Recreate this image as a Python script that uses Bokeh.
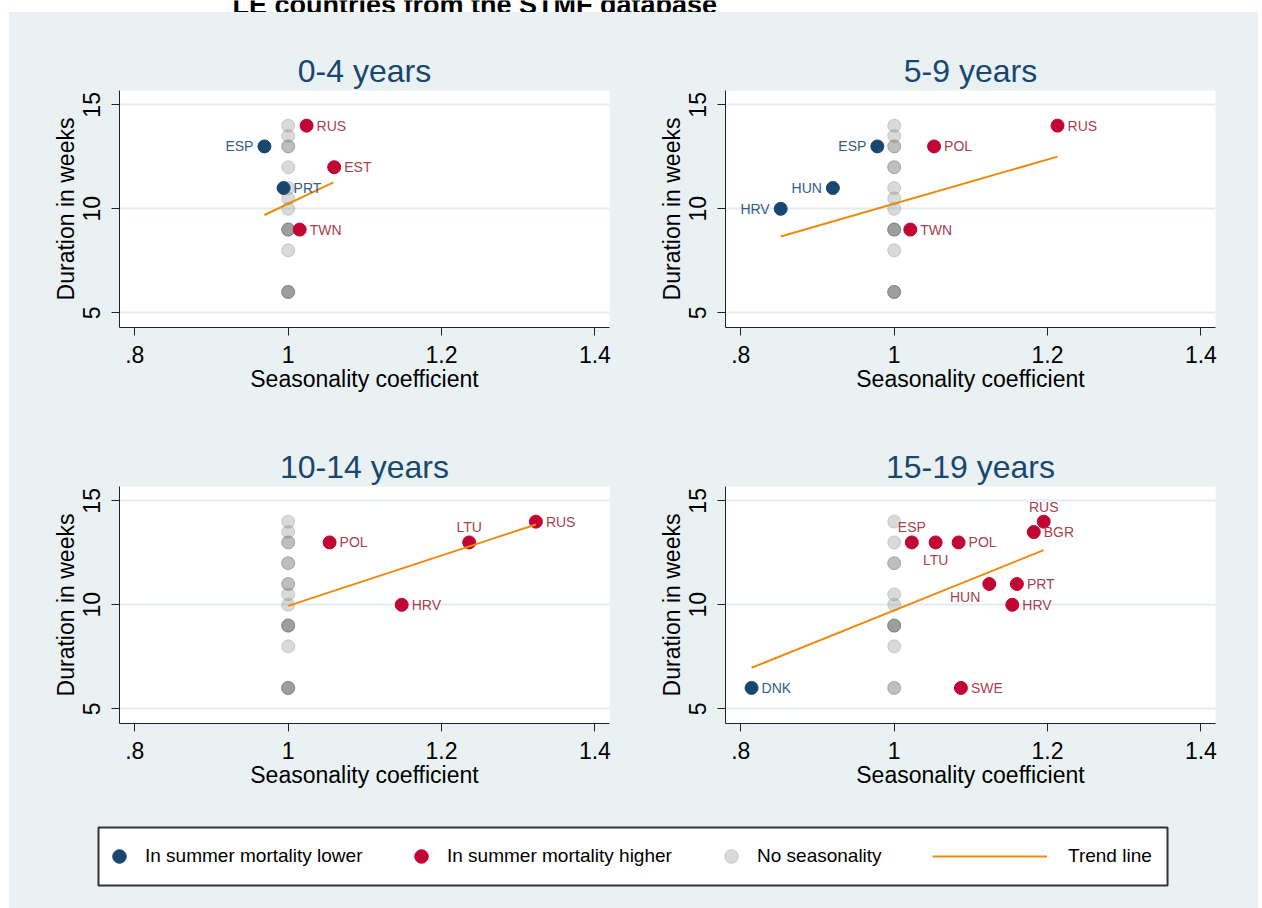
from bokeh.plotting import figure
from bokeh.models import Range1d, FixedTicker, ColumnDataSource, Legend, LegendItem, Spacer, Label
from bokeh.layouts import column, row
from bokeh.core.properties import value
from bokeh.embed import file_html
from bokeh.resources import INLINE

# ---------------- data ----------------
page_title = "LE countries from the STMF database"
panel_titles = ["0-4 years", "5-9 years", "10-14 years", "15-19 years"]

x_ticks = [0.8, 1.0, 1.2, 1.4]
x_tick_labels = [".8", "1", "1.2", "1.4"]
y_ticks = [5, 10, 15]
y_tick_labels = ["5", "10", "15"]

# 0-4 years
p04_blue_code = ["ESP", "PRT"]
p04_blue_x = [0.969, 0.994]
p04_blue_y = [13, 11]
p04_red_code = ["RUS", "EST", "TWN"]
p04_red_x = [1.024, 1.060, 1.015]
p04_red_y = [14, 12, 9]
p04_gray_y = [14, 13.5, 13, 13, 12, 11, 10.5, 10, 9, 9, 9, 9, 8, 6, 6, 6, 6]
p04_trend_x = [0.969, 1.059]
p04_trend_y = [9.70, 11.27]

# 5-9 years
p59_blue_code = ["ESP", "HUN", "HRV"]
p59_blue_x = [0.978, 0.920, 0.852]
p59_blue_y = [13, 11, 10]
p59_red_code = ["POL", "RUS", "TWN"]
p59_red_x = [1.052, 1.213, 1.021]
p59_red_y = [13, 14, 9]
p59_gray_y = [14, 13.5, 13, 13, 12, 12, 11, 10.5, 10, 9, 9, 9, 9, 8, 6, 6, 6, 6]
p59_trend_x = [0.852, 1.213]
p59_trend_y = [8.67, 12.51]

# 10-14 years
p1014_blue_code = []
p1014_blue_x = []
p1014_blue_y = []
p1014_red_code = ["POL", "LTU", "RUS", "HRV"]
p1014_red_x = [1.054, 1.236, 1.323, 1.148]
p1014_red_y = [13, 13, 14, 10]
p1014_gray_y = [14, 13.5, 13, 13, 12, 12, 11, 11, 10.5, 10, 9, 9, 9, 9, 8, 6, 6, 6, 6]
p1014_trend_x = [1.0, 1.323]
p1014_trend_y = [9.95, 13.86]

# 15-19 years
p1519_blue_code = ["DNK"]
p1519_blue_x = [0.814]
p1519_blue_y = [6]
p1519_red_code = ["ESP", "LTU", "POL", "RUS", "BGR", "HUN", "PRT", "HRV", "SWE"]
p1519_red_x = [1.023, 1.054, 1.084, 1.195, 1.182, 1.124, 1.160, 1.154, 1.087]
p1519_red_y = [13, 13, 13, 14, 13.5, 11, 11, 10, 6]
p1519_gray_y = [14, 13, 12, 12, 10.5, 10, 9, 9, 9, 9, 8, 6, 6]
p1519_trend_x = [0.814, 1.195]
p1519_trend_y = [6.97, 12.63]

legend_labels = ["In summer mortality lower", "In summer mortality higher",
                 "No seasonality", "Trend line"]

# label placement (style, clock-like positions)
label_pos = {
    0: {"ESP": "l", "PRT": "r", "RUS": "r", "EST": "r", "TWN": "r"},
    1: {"ESP": "l", "HUN": "l", "HRV": "l", "POL": "r", "RUS": "r", "TWN": "r"},
    2: {"POL": "r", "LTU": "t", "RUS": "r", "HRV": "r"},
    3: {"DNK": "r", "ESP": "t", "LTU": "b", "POL": "r", "RUS": "t", "BGR": "r",
        "HUN": "bl", "PRT": "r", "HRV": "r", "SWE": "r"},
}

panels = [
    dict(blue=(p04_blue_code, p04_blue_x, p04_blue_y), red=(p04_red_code, p04_red_x, p04_red_y),
         gray=p04_gray_y, trend=(p04_trend_x, p04_trend_y)),
    dict(blue=(p59_blue_code, p59_blue_x, p59_blue_y), red=(p59_red_code, p59_red_x, p59_red_y),
         gray=p59_gray_y, trend=(p59_trend_x, p59_trend_y)),
    dict(blue=(p1014_blue_code, p1014_blue_x, p1014_blue_y), red=(p1014_red_code, p1014_red_x, p1014_red_y),
         gray=p1014_gray_y, trend=(p1014_trend_x, p1014_trend_y)),
    dict(blue=(p1519_blue_code, p1519_blue_x, p1519_blue_y), red=(p1519_red_code, p1519_red_x, p1519_red_y),
         gray=p1519_gray_y, trend=(p1519_trend_x, p1519_trend_y)),
]

# ---------------- style ----------------
FONT = "Liberation Sans"
BG = "#e9f1f3"
GRID = "#e3ecef"
BLUE = "#1a476f"
RED = "#c10534"
BLUE_TXT = "#335d85"
RED_TXT = "#a8414f"
GRAY = "#7a7a7a"
ORANGE = "#ec8b0e"
TITLE_C = "#1a476f"

POS = {
    "r": dict(x_offset=10, y_offset=0, text_align="left", text_baseline="middle"),
    "l": dict(x_offset=-11, y_offset=0, text_align="right", text_baseline="middle"),
    "t": dict(x_offset=0, y_offset=-15, text_align="center", text_baseline="alphabetic"),
    "b": dict(x_offset=0, y_offset=18, text_align="center", text_baseline="alphabetic"),
    "bl": dict(x_offset=-9, y_offset=13, text_align="right", text_baseline="alphabetic"),
}


def add_labels(p, codes, xs, ys, posmap, color):
    for key, kw in POS.items():
        idx = [i for i, c in enumerate(codes) if posmap.get(c) == key]
        if not idx:
            continue
        src = ColumnDataSource(dict(x=[xs[i] for i in idx], y=[ys[i] for i in idx],
                                    t=[codes[i] for i in idx]))
        p.text(x="x", y="y", text="t", source=src, text_font=value(FONT),
               text_font_size="14px", text_color=color, **kw)


def make_panel(i, width, left, right):
    d = panels[i]
    p = figure(width=width, height=396, x_range=Range1d(0.78, 1.419),
               y_range=Range1d(4.29, 15.69), output_backend="svg", toolbar_location=None,
               min_border_left=left, min_border_right=right, min_border_top=78,
               min_border_bottom=81, title=panel_titles[i])
    p.background_fill_color = "white"
    p.border_fill_color = BG
    p.outline_line_color = None
    p.title.align = "center"
    p.title.text_font = FONT
    p.title.text_font_size = "32px"
    p.title.text_font_style = "normal"
    p.title.text_color = TITLE_C
    p.title.standoff = 4

    p.xaxis.ticker = FixedTicker(ticks=x_ticks)
    p.xaxis.major_label_overrides = dict(zip(x_ticks, x_tick_labels))
    p.yaxis.ticker = FixedTicker(ticks=y_ticks)
    p.yaxis.major_label_overrides = dict(zip(y_ticks, y_tick_labels))
    p.yaxis.major_label_orientation = "vertical"
    p.xaxis.axis_label = "Seasonality coefficient"
    p.yaxis.axis_label = "Duration in weeks"
    for ax in (p.xaxis, p.yaxis):
        ax.axis_label_text_font = FONT
        ax.axis_label_text_font_size = "23px"
        ax.axis_label_text_font_style = "normal"
        ax.axis_label_text_color = "black"
        ax.major_label_text_font = FONT
        ax.major_label_text_font_size = "23px"
        ax.major_label_text_color = "black"
        ax.minor_tick_line_color = None
        ax.major_tick_in = 0
        ax.major_tick_out = 8
        ax.axis_line_color = "#222222"
        ax.major_tick_line_color = "#222222"
    p.xaxis.major_label_standoff = 10
    p.xaxis.axis_label_standoff = 0
    p.yaxis.major_label_standoff = 11
    p.yaxis.axis_label_standoff = 2
    p.xgrid.visible = False
    p.ygrid.ticker = FixedTicker(ticks=y_ticks)
    p.ygrid.grid_line_color = GRID
    p.ygrid.grid_line_width = 2

    gy = d["gray"]
    p.scatter(x=[1.0] * len(gy), y=gy, size=13, fill_color=GRAY, fill_alpha=0.28,
              line_color=GRAY, line_alpha=0.3, line_width=1)
    bc, bx, by = d["blue"]
    if bx:
        p.scatter(x=bx, y=by, size=13, fill_color=BLUE, line_color=BLUE)
    rc, rx, ry = d["red"]
    p.scatter(x=rx, y=ry, size=13, fill_color=RED, line_color=RED)
    tx, ty = d["trend"]
    p.line(x=tx, y=ty, line_color=ORANGE, line_width=2)
    add_labels(p, bc, bx, by, label_pos[i], BLUE_TXT)
    add_labels(p, rc, rx, ry, label_pos[i], RED_TXT)
    return p


tl = make_panel(0, 621, 110, 21)
tr = make_panel(1, 628, 95, 43)
bl = make_panel(2, 621, 110, 21)
br = make_panel(3, 628, 95, 43)

# ---------------- page title strip (cut off at top, as in the source) ----------------
ts = figure(width=1262, height=12, x_range=Range1d(0, 1262), y_range=Range1d(0, 12),
            min_border=0, x_axis_location=None, y_axis_location=None,
            output_backend="svg", toolbar_location=None)
ts.background_fill_color = "white"
ts.border_fill_color = "white"
ts.outline_line_color = None
ts.grid.grid_line_color = None
ts.add_layout(Label(x=232, y=7.5, text=page_title, text_font=FONT, text_font_size="27px",
                    text_font_style="bold", text_color="black", text_baseline="alphabetic"))

# ---------------- legend ----------------
lf = figure(width=1249, height=104, x_range=Range1d(0, 1), y_range=Range1d(0, 1),
            min_border_left=89, min_border_right=91, min_border_top=23, min_border_bottom=23,
            x_axis_location=None, y_axis_location=None, output_backend="svg",
            toolbar_location=None)
lf.background_fill_color = "white"
lf.border_fill_color = BG
lf.outline_line_color = "#333333"
lf.outline_line_width = 2
lf.grid.grid_line_color = None

# legend renderers reuse real series (they fall outside this box's range, only the keys show)
r_blue = lf.scatter(x=p04_blue_x, y=p04_blue_y, size=13, fill_color=BLUE, line_color=BLUE)
r_red = lf.scatter(x=p04_red_x, y=p04_red_y, size=13, fill_color=RED, line_color=RED)
r_gray = lf.scatter(x=[1.0] * len(p04_gray_y), y=p04_gray_y, size=13, fill_color=GRAY,
                    fill_alpha=0.28, line_color=GRAY, line_alpha=0.3)
r_line = lf.line(x=p04_trend_x, y=p04_trend_y, line_color=ORANGE, line_width=2)

leg_specs = [(r_blue, 4, 34, 9), (r_red, 306, 34, 9), (r_gray, 616, 34, 9), (r_line, 834, 115, 21)]
for (rend, xo, gw, so), lab in zip(leg_specs, legend_labels):
    leg = Legend(items=[LegendItem(label=lab, renderers=[rend])], location=(xo, 12),
                 orientation="horizontal", glyph_width=gw, glyph_height=34, label_height=34,
                 label_standoff=so, padding=0, margin=0, spacing=0,
                 border_line_color=None, background_fill_alpha=0,
                 label_text_font=FONT, label_text_font_size="19px", label_text_color="black")
    lf.add_layout(leg, "center")

top_row = row(tl, tr, styles={"background-color": BG})
bot_row = row(bl, br, styles={"background-color": BG})
body = column(top_row, bot_row, lf, styles={"background-color": BG})
layout = column(ts, row(Spacer(width=9, height=896), body, Spacer(width=4, height=896)))

open("out.html", "w").write(file_html(layout, INLINE))
